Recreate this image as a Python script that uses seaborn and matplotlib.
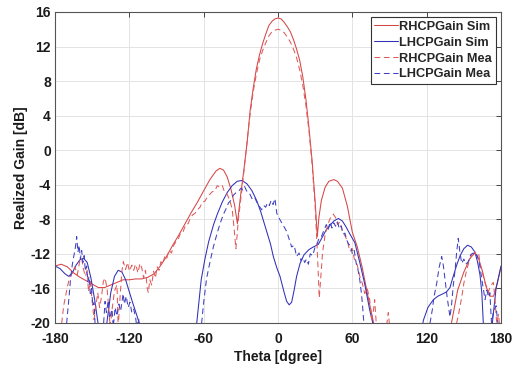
import numpy as np
import pandas as pd
import matplotlib
matplotlib.use("Agg")
import matplotlib.pyplot as plt
import seaborn as sns

# ---------------- data ----------------
rhcp_sim_theta = [-180, -175, -170, -165, -160, -155, -150, -145, -140, -135, -130, -125, -120, -115,
                  -110, -105, -100, -95, -90, -85, -80, -75, -70, -65, -60, -55, -50, -47, -44, -41,
                  -38, -35, -32.8, -30, -27.5, -25, -22.5, -20, -17.5, -15, -12.5, -10, -7.5, -5,
                  -2.5, 0, 2.5, 5, 7.5, 10, 12.5, 15, 17.5, 20, 22.5, 25, 27.5, 30, 31.7, 33, 35,
                  38, 41, 45, 48, 52, 56, 60, 64, 68, 72, 76, 80, 85, 90, 135, 140, 145, 150, 155,
                  159, 162, 165, 168, 171, 174, 177, 180]
rhcp_sim_gain = [-13.4, -13.2, -13.5, -14.2, -14.7, -15.1, -15.5, -15.9, -15.9, -15.6, -15.3, -15.0,
                 -15.0, -14.9, -14.9, -14.7, -14.3, -13.4, -12.3, -11.0, -9.8, -8.5, -7.2, -6.0,
                 -4.7, -3.4, -2.4, -2.1, -2.3, -3.1, -4.5, -6.4, -8.5, -5.0, -2.2, 0.8, 4.6, 7.2,
                 9.4, 11.0, 12.3, 13.4, 14.4, 14.9, 15.2, 15.3, 15.2, 14.8, 14.3, 13.7, 12.8, 11.7,
                 10.4, 8.5, 5.9, 2.6, -1.2, -6.0, -10.0, -7.8, -5.8, -4.3, -3.6, -3.4, -3.6, -4.4,
                 -6.5, -9.5, -11.2, -13.6, -16.5, -19.2, -22.0, -26.0, -30.0, -30.0, -20.0, -16.2,
                 -14.1, -12.5, -11.9, -12.6, -14.0, -15.8, -16.9, -16.9, -15.4, -13.5]

lhcp_sim_theta = [-180, -176, -172, -169, -166, -163, -160, -157, -154, -151, -148, -145, -142, -140,
                  -138, -135, -132, -129, -126, -123, -120, -117, -114, -110, -106, -100, -80, -68,
                  -65.6, -62, -59, -56, -52, -49, -45, -41, -37, -33, -29, -25, -21, -17, -14, -10,
                  -6, -3.8, -1, 1.6, 5, 7, 9, 11, 13, 15, 17.8, 21, 25, 28.5, 32.5, 36, 39, 42, 45,
                  48.7, 52, 55, 58, 62, 66, 70, 74, 77, 80, 85, 110, 114, 117.3, 121, 125.4, 129,
                  133.4, 136, 138.8, 141, 144.2, 147, 150, 153, 156, 159, 161, 163, 164.5, 165.7,
                  168, 171, 173, 176, 180]
lhcp_sim_gain = [-13.4, -13.7, -14.3, -14.6, -14.2, -13.3, -12.7, -12.5, -13.0, -14.8, -17.3, -20.3,
                 -24.0, -22.0, -19.8, -16.5, -14.6, -13.9, -14.1, -15.0, -16.4, -17.8, -19.1, -21.0,
                 -25.0, -30.0, -30.0, -24.0, -20.0, -15.0, -12.6, -10.6, -8.6, -7.4, -6.0, -4.9,
                 -4.1, -3.6, -3.5, -3.9, -4.7, -5.9, -7.1, -9.0, -10.9, -12.3, -13.6, -14.6, -16.5,
                 -17.5, -17.9, -17.6, -16.2, -14.6, -13.1, -12.1, -11.5, -11.2, -10.9, -10.0, -9.2,
                 -8.7, -8.2, -7.9, -8.2, -8.9, -9.7, -10.7, -13.0, -15.5, -18.5, -20.3, -24.0,
                 -30.0, -30.0, -23.0, -19.7, -18.2, -17.3, -16.9, -16.6, -16.4, -15.9, -14.8,
                 -13.3, -12.2, -11.4, -11.0, -11.2, -11.8, -12.9, -14.4, -16.5, -20.0, -26.0,
                 -24.0, -20.0, -16.0, -13.4]

rhcp_mea_theta = [-180, -177, -175, -173, -170, -168, -166, -164, -162, -160, -158.5, -157, -155.5,
                  -154, -153, -151.5, -150, -148.5, -147, -145.5, -144, -142.5, -141, -139.6, -138,
                  -136.5, -135.5, -134, -132, -130, -129, -127.5, -126, -124.9, -123, -121.5, -120,
                  -118, -116.5, -115, -113, -111.5, -110, -108.5, -107, -105.5, -104.7, -103.5,
                  -102, -100.5, -99, -97.5, -96, -94.5, -93, -91.5, -90, -88, -86, -84.5, -82.5,
                  -80.5, -78.5, -76.5, -74.5, -72.5, -71, -69, -67, -65, -63, -61, -59, -57, -55,
                  -53, -51, -49, -47, -45, -43, -41, -39, -37, -35.5, -34, -33, -32, -30, -27.5,
                  -25, -22.5, -20, -17.5, -15, -12.5, -10, -7.5, -5, -2.5, 0, 2.5, 5, 7.5, 10,
                  12.5, 15, 17.5, 20, 22.5, 25, 27.5, 30, 31.5, 33.3, 34.5, 36, 38, 40, 42, 44.6,
                  46.5, 48, 50, 52, 54, 56, 58, 60, 62, 64, 66, 68, 70, 72, 74, 75.5, 77, 78, 79.5,
                  81, 84, 87, 89, 90.5, 93, 100, 140, 144.2, 146, 148.3, 150, 152.2, 154, 156.3,
                  157.5, 159, 160.5, 162, 163, 165, 167.1, 168.5, 169.8, 171.5, 173.8, 175, 176.5,
                  178, 180]
rhcp_mea_gain = [-30.0, -24.0, -20.5, -18.0, -15.8, -14.6, -14.2, -13.5, -14.4, -12.8, -12.5, -13.8,
                 -14.6, -13.9, -16.4, -15.2, -17.5, -19.6, -18.0, -16.5, -18.2, -17.0, -15.2,
                 -14.8, -16.0, -18.5, -20.5, -18.5, -16.3, -15.6, -20.5, -17.0, -14.0, -12.9,
                 -13.8, -13.0, -14.0, -13.3, -13.9, -13.2, -14.2, -13.1, -13.6, -14.8, -13.9,
                 -16.0, -16.5, -15.0, -15.6, -14.0, -14.8, -13.5, -13.9, -12.9, -13.2, -12.3,
                 -12.6, -11.6, -11.9, -11.1, -10.6, -10.3, -9.5, -9.4, -8.6, -8.5, -7.9, -7.5,
                 -7.3, -6.9, -6.6, -6.0, -5.9, -5.4, -5.1, -4.8, -4.7, -4.1, -4.3, -4.1, -4.9,
                 -5.1, -5.8, -6.8, -9.0, -11.4, -9.8, -8.0, -5.6, -2.4, 1.0, 4.2, 6.8, 8.8, 10.4,
                 11.5, 12.4, 13.2, 13.7, 13.9, 14.0, 13.9, 13.6, 13.1, 12.5, 11.7, 10.7, 9.3, 7.5,
                 5.2, 2.2, -1.6, -6.6, -11.0, -17.1, -14.8, -11.8, -9.8, -8.7, -7.9, -7.4, -7.8,
                 -8.6, -8.3, -9.3, -9.9, -10.5, -11.7, -11.4, -12.9, -13.3, -14.6, -15.4, -16.6,
                 -16.0, -17.3, -19.5, -18.6, -17.3, -20.5, -22.0, -24.0, -21.0, -18.8, -21.0,
                 -26.0, -30.0, -30.0, -20.0, -18.8, -17.0, -15.4, -13.9, -13.0, -12.1, -11.7,
                 -11.8, -12.3, -12.0, -13.1, -14.2, -15.4, -15.8, -16.4, -15.7, -15.3, -17.0,
                 -20.0, -19.0, -22.0]

lhcp_mea_theta = [-180, -175, -172, -170.6, -169, -167.5, -166, -164.5, -163.5, -162.5, -161.5,
                  -160.5, -159.5, -158.5, -157.5, -156.5, -155.5, -154.5, -153.5, -152.5, -151.5,
                  -150.5, -149.5, -148.5, -147.7, -146, -143, -141, -139.6, -138.5, -137, -136,
                  -134, -133, -131.5, -130, -128.5, -127, -125, -124, -122.5, -121, -119.5, -118,
                  -116.5, -115, -114, -112.5, -111, -108, -100, -70, -64, -62, -60, -57.6, -55,
                  -52.2, -49.5, -46.8, -44, -42, -40, -38, -36, -34.5, -33, -31.5, -30, -28.5, -27,
                  -25, -23, -21, -19, -17.2, -15.5, -13.2, -11.5, -10, -8.5, -7, -5.5, -4, -2.5,
                  -1, 1, 3, 5, 7, 9, 11, 13, 15, 17, 18.5, 20, 21.5, 23, 24.5, 26, 28, 29.9, 31.5,
                  33, 35, 37, 39, 40.5, 42, 43.5, 45, 46.5, 48, 49.5, 51, 52.5, 54, 55.5, 57, 58.5,
                  60, 61.5, 63, 64.5, 66, 67.5, 68.5, 69.5, 72, 80, 118, 121, 122.7, 124.5, 126,
                  128.1, 130, 132.1, 133.5, 134.8, 136.5, 138.8, 140, 141.5, 142.9, 144.2, 145.5,
                  146.8, 148.3, 150, 151.5, 153.6, 155.5, 157.6, 159, 160.5, 162, 163, 165, 167.1,
                  168.5, 170, 171, 172.3, 174, 176, 177, 178, 180]
lhcp_mea_gain = [-30.0, -26.0, -22.0, -20.0, -17.5, -15.0, -13.2, -12.0, -11.2, -10.0, -11.8, -11.0,
                 -12.6, -11.6, -13.0, -12.2, -14.0, -13.4, -15.2, -14.6, -16.6, -16.0, -18.0,
                 -17.6, -20.0, -23.0, -24.0, -20.5, -17.5, -18.8, -17.4, -19.5, -18.4, -20.5,
                 -18.2, -19.2, -17.8, -18.6, -16.6, -17.8, -16.9, -18.2, -17.6, -18.8, -18.4,
                 -19.3, -20.5, -19.5, -22.0, -27.0, -30.0, -30.0, -24.0, -20.5, -17.6, -14.8,
                 -13.0, -11.2, -9.8, -8.5, -7.4, -6.8, -6.1, -5.8, -5.2, -5.0, -4.8, -4.7, -4.4,
                 -4.6, -4.2, -4.8, -5.0, -5.6, -5.4, -6.0, -6.4, -6.9, -6.4, -6.6, -6.1, -6.4,
                 -5.8, -6.3, -5.6, -7.3, -7.9, -8.4, -8.9, -9.4, -10.3, -11.2, -11.0, -12.3, -11.9,
                 -12.8, -12.4, -13.0, -12.6, -13.2, -12.0, -12.2, -11.2, -10.9, -10.2, -10.0,
                 -9.3, -8.6, -9.2, -8.3, -9.0, -8.4, -8.8, -8.3, -9.1, -8.8, -9.7, -9.6, -10.4,
                 -10.9, -11.0, -12.0, -11.6, -13.0, -13.8, -15.0, -16.8, -18.5, -20.5, -25.0,
                 -30.0, -30.0, -23.0, -20.0, -18.5, -16.9, -15.4, -13.6, -12.3, -13.4, -15.0,
                 -17.0, -19.3, -18.0, -15.6, -13.9, -11.8, -10.2, -11.8, -13.1, -12.6, -13.2,
                 -12.9, -12.1, -11.9, -12.3, -12.1, -12.8, -13.5, -15.4, -17.3, -16.2, -17.0,
                 -16.5, -20.0, -18.6, -18.0, -19.5, -20.5, -22.0]

series_names = ["RHCPGain Sim", "LHCPGain Sim", "RHCPGain Mea", "LHCPGain Mea"]
x_ticks = [-180, -120, -60, 0, 60, 120, 180]
y_ticks = [-20, -16, -12, -8, -4, 0, 4, 8, 12, 16]

# ---------------- style ----------------
sns.set_style("white")
plt.rcParams["font.family"] = ["Liberation Sans", "DejaVu Sans"]
plt.rcParams["font.weight"] = "bold"

fig = plt.figure(figsize=(5.2, 3.69), dpi=100)
ax = fig.add_axes([0.1058, 0.1247, 0.8577, 0.8428])

red_s = "#d64545"
blue_s = "#3030b8"
red_d = "#e05a5a"
blue_d = "#4040c2"

specs = [
    (rhcp_sim_theta, rhcp_sim_gain, series_names[0], red_s, "-"),
    (lhcp_sim_theta, lhcp_sim_gain, series_names[1], blue_s, "-"),
    (rhcp_mea_theta, rhcp_mea_gain, series_names[2], red_d, "--"),
    (lhcp_mea_theta, lhcp_mea_gain, series_names[3], blue_d, "--"),
]
for th, g, name, col, ls in specs:
    df = pd.DataFrame({"theta": th, "gain": g})
    sns.lineplot(data=df, x="theta", y="gain", ax=ax, color=col, lw=0.75,
                 label=name, sort=False, estimator=None)
    ln = ax.get_lines()[-1]
    if ls == "--":
        ln.set_dashes((5.5, 3.5))

ax.set_xlim(-180, 180)
ax.set_ylim(-20, 16)
ax.set_xticks(x_ticks)
ax.set_yticks(y_ticks)
ax.set_xticklabels([str(v) for v in x_ticks], fontsize=10, fontweight="bold")
ax.set_yticklabels([str(v) for v in y_ticks], fontsize=10, fontweight="bold")
ax.grid(True, color="#e3e3e3", lw=0.7)
ax.set_axisbelow(True)
ax.tick_params(direction="in", length=3.5, width=0.7, color="#444444",
               top=True, right=True, labelcolor="#1a1a1a")
ax.tick_params(axis="x", pad=6.5)
ax.tick_params(axis="y", pad=3)
for s in ax.spines.values():
    s.set_color("#555555")
    s.set_linewidth(0.8)

ax.set_xlabel("Theta [dgree]", fontsize=10, fontweight="bold", labelpad=3, color="#1a1a1a")
ax.set_ylabel("Realized Gain [dB]", fontsize=10, fontweight="bold", labelpad=2, color="#1a1a1a")

leg = ax.legend(loc="upper right", fontsize=9.2, frameon=True, fancybox=False,
                edgecolor="#333333", framealpha=1, borderaxespad=0.4, borderpad=0.3,
                labelspacing=0.3, handlelength=1.85, handletextpad=0.1)
leg.get_frame().set_linewidth(0.8)
for t in leg.get_texts():
    t.set_fontweight("bold")

fig.savefig("out.png", dpi=100)
